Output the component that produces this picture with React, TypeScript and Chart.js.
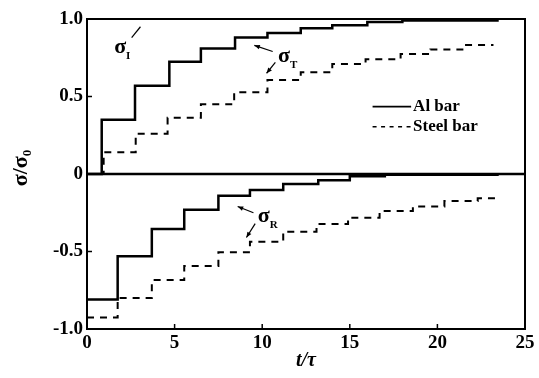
import { useEffect, useRef } from "react";
import { Chart, registerables } from "chart.js";

Chart.register(...registerables);

// Axis ticks
const xTicks = [0, 5, 10, 15, 20, 25];
const yTicks = [-1, -0.5, 0, 0.5, 1];
const yTickLabels = ["-1.0", "-0.5", "0", "0.5", "1.0"];

// Each series: step start times (t/τ) and the level held from that time on (σ/σ0)
const alTransT = [0, 0.84, 2.74, 4.7, 6.5, 8.45, 10.3, 12.2, 14.0, 16.0, 18.0, 23.5];
const alTransS = [0, 0.35, 0.57, 0.725, 0.81, 0.88, 0.91, 0.94, 0.96, 0.98, 0.99, 0.99];

const alReflT = [0, 1.75, 3.7, 5.55, 7.5, 9.3, 11.2, 13.2, 15.0, 17.0, 23.5];
const alReflS = [-0.81, -0.53, -0.355, -0.23, -0.14, -0.103, -0.065, -0.04, -0.015, -0.005, -0.005];

const steelTransT = [0, 0.95, 2.78, 4.6, 6.5, 8.4, 10.3, 12.2, 14.0, 15.9, 17.9, 19.6, 21.5, 23.2];
const steelTransS = [0, 0.14, 0.26, 0.363, 0.45, 0.527, 0.606, 0.656, 0.71, 0.74, 0.774, 0.804, 0.832, 0.832];

const steelReflT = [0, 1.75, 3.7, 5.55, 7.5, 9.3, 11.2, 13.1, 14.9, 16.7, 18.6, 20.4, 22.3, 23.5];
const steelReflS = [-0.925, -0.8, -0.684, -0.594, -0.505, -0.437, -0.372, -0.322, -0.282, -0.239, -0.21, -0.174, -0.157, -0.157];

const legendLabels = ["Al bar", "Steel bar"];

const SERIF = "'Liberation Serif', 'DejaVu Serif', serif";
const DASH = [7, 6];

const toPoints = (ts: number[], vs: number[]) => ts.map((t, i) => ({ x: t, y: vs[i] }));

function drawArrow(ctx: CanvasRenderingContext2D, x1: number, y1: number, x2: number, y2: number, head: boolean) {
  ctx.beginPath();
  ctx.moveTo(x1, y1);
  ctx.lineTo(x2, y2);
  ctx.stroke();
  if (!head) return;
  const a = Math.atan2(y2 - y1, x2 - x1);
  const L = 6;
  ctx.beginPath();
  ctx.moveTo(x2, y2);
  ctx.lineTo(x2 - L * Math.cos(a - 0.4), y2 - L * Math.sin(a - 0.4));
  ctx.lineTo(x2 - L * Math.cos(a + 0.4), y2 - L * Math.sin(a + 0.4));
  ctx.closePath();
  ctx.fill();
}

function drawSigma(ctx: CanvasRenderingContext2D, x: number, y: number, sub: string) {
  ctx.font = `bold 22px ${SERIF}`;
  ctx.textAlign = "left";
  ctx.textBaseline = "alphabetic";
  ctx.fillText("σ", x, y);
  const w = ctx.measureText("σ").width;
  ctx.font = `bold 11px ${SERIF}`;
  ctx.fillText(sub, x + w, y + 6);
}

const framePlugin = {
  id: "frame",
  afterDraw(chart: any) {
    const { ctx, chartArea: ca, scales } = chart;
    const xs = scales.x;
    const ys = scales.y;
    const px = (v: number) => xs.getPixelForValue(v);
    const py = (v: number) => ys.getPixelForValue(v);
    ctx.save();
    ctx.strokeStyle = "#000";
    ctx.fillStyle = "#000";

    // plot frame
    ctx.lineWidth = 2;
    ctx.strokeRect(ca.left, ca.top, ca.right - ca.left, ca.bottom - ca.top);

    // zero line
    ctx.lineWidth = 2.5;
    ctx.beginPath();
    ctx.moveTo(ca.left, py(0));
    ctx.lineTo(ca.right, py(0));
    ctx.stroke();

    // inward ticks
    ctx.lineWidth = 1.5;
    yTicks.forEach((v) => {
      ctx.beginPath();
      ctx.moveTo(ca.left, py(v));
      ctx.lineTo(ca.left + 5, py(v));
      ctx.stroke();
    });
    xTicks.forEach((v) => {
      ctx.beginPath();
      ctx.moveTo(px(v), ca.bottom);
      ctx.lineTo(px(v), ca.bottom - 5);
      ctx.stroke();
    });

    // wave labels with leaders
    ctx.lineWidth = 1.2;
    drawSigma(ctx, px(1.55), py(0.78), "I");
    drawArrow(ctx, px(2.55), py(0.88), px(3.05), py(0.95), false);

    drawSigma(ctx, px(10.9), py(0.72), "T");
    drawArrow(ctx, px(10.6), py(0.79), px(9.55), py(0.83), true);
    drawArrow(ctx, px(10.75), py(0.72), px(10.25), py(0.65), true);

    drawSigma(ctx, px(9.75), py(-0.31), "R");
    drawArrow(ctx, px(9.5), py(-0.25), px(8.6), py(-0.21), true);
    drawArrow(ctx, px(9.6), py(-0.32), px(9.1), py(-0.41), true);

    // legend
    const lx0 = px(16.3);
    const lx1 = px(18.5);
    const ly = [py(0.435), py(0.305)];
    ctx.lineWidth = 1.6;
    ctx.beginPath();
    ctx.moveTo(lx0, ly[0]);
    ctx.lineTo(lx1, ly[0]);
    ctx.stroke();
    ctx.setLineDash([4, 4.5]);
    ctx.beginPath();
    ctx.moveTo(lx0, ly[1]);
    ctx.lineTo(lx1, ly[1]);
    ctx.stroke();
    ctx.setLineDash([]);
    ctx.font = `bold 17px ${SERIF}`;
    ctx.textAlign = "left";
    ctx.textBaseline = "middle";
    ctx.fillText(legendLabels[0], lx1 + 2, ly[0]);
    ctx.fillText(legendLabels[1], lx1 + 2, ly[1]);

    // y axis title σ/σ0
    ctx.save();
    ctx.translate(21, 168);
    ctx.rotate(-Math.PI / 2);
    ctx.font = `bold 22px ${SERIF}`;
    const main = "σ/σ";
    const wm = ctx.measureText(main).width;
    ctx.font = `bold 13px ${SERIF}`;
    const wsub = ctx.measureText("0").width;
    const start = -(wm + wsub) / 2;
    ctx.textAlign = "left";
    ctx.textBaseline = "middle";
    ctx.font = `bold 22px ${SERIF}`;
    ctx.fillText(main, start, 0);
    ctx.font = `bold 13px ${SERIF}`;
    ctx.fillText("0", start + wm, 7);
    ctx.restore();

    // x axis title t/τ
    ctx.font = `italic bold 20px ${SERIF}`;
    ctx.textAlign = "center";
    ctx.textBaseline = "alphabetic";
    ctx.fillText("t/τ", px(12.5), 366);

    ctx.restore();
  },
};

export default function App() {
  const canvasRef = useRef<HTMLCanvasElement | null>(null);

  useEffect(() => {
    if (!canvasRef.current) return;
    const line = (label: string, ts: number[], vs: number[], dashed: boolean) => ({
      label,
      data: toPoints(ts, vs),
      borderColor: "#000",
      backgroundColor: "#000",
      borderWidth: dashed ? 2 : 2.5,
      borderDash: dashed ? DASH : [],
      stepped: true,
      pointRadius: 0,
      fill: false,
    });

    const chart = new Chart(canvasRef.current, {
      type: "line",
      data: {
        datasets: [
          line("Al bar σT", alTransT, alTransS, false),
          line("Al bar σR", alReflT, alReflS, false),
          line("Steel bar σT", steelTransT, steelTransS, true),
          line("Steel bar σR", steelReflT, steelReflS, true),
        ],
      },
      options: {
        animation: false,
        responsive: false,
        layout: { padding: { left: 0, top: 19, right: 14, bottom: 0 } },
        plugins: { legend: { display: false }, tooltip: { enabled: false }, title: { display: false } },
        scales: {
          x: {
            type: "linear",
            min: 0,
            max: 25,
            grid: { display: false, drawTicks: false },
            border: { display: false },
            afterBuildTicks: (s: any) => {
              s.ticks = xTicks.map((v) => ({ value: v }));
            },
            afterFit: (s: any) => {
              s.height = 49;
            },
            ticks: {
              padding: 3,
              color: "#000",
              font: { family: SERIF, size: 19, weight: "bold" },
              maxRotation: 0,
              callback: (v: any) => String(v),
            },
          },
          y: {
            type: "linear",
            min: -1,
            max: 1,
            grid: { display: false, drawTicks: false },
            border: { display: false },
            afterBuildTicks: (s: any) => {
              s.ticks = yTicks.map((v) => ({ value: v }));
            },
            afterFit: (s: any) => {
              s.width = 87;
            },
            ticks: {
              padding: 4,
              color: "#000",
              font: { family: SERIF, size: 19, weight: "bold" },
              callback: (v: any) => {
                const i = yTicks.indexOf(Number(v));
                return i >= 0 ? yTickLabels[i] : "";
              },
            },
          },
        },
      },
      plugins: [framePlugin],
    } as any);

    return () => chart.destroy();
  }, []);

  return (
    <div style={{ position: "fixed", left: 0, top: 0, width: 539, height: 378, background: "#fff" }}>
      <canvas ref={canvasRef} width={539} height={378} style={{ display: "block" }} />
    </div>
  );
}
